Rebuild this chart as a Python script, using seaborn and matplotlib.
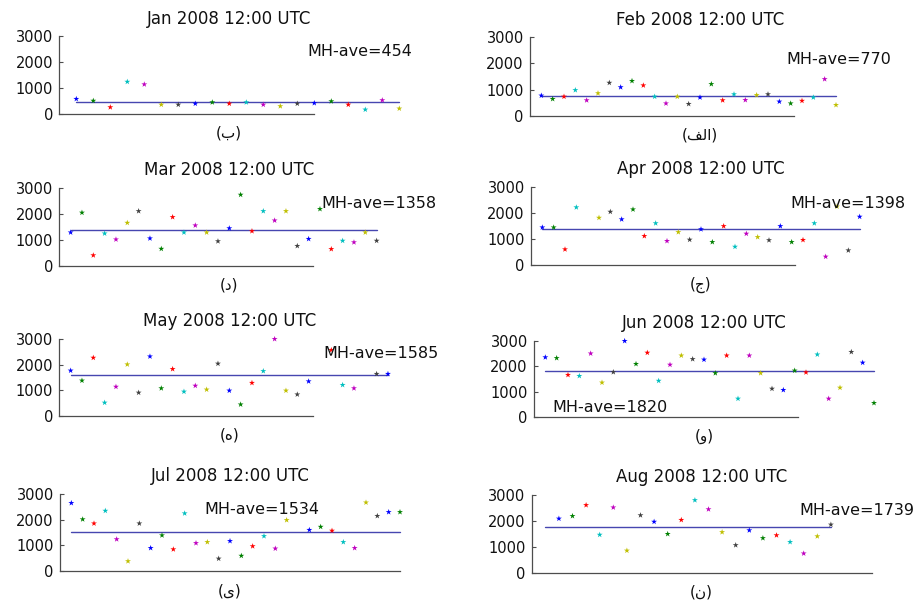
import numpy as np
import pandas as pd
import matplotlib
matplotlib.use("Agg")
import matplotlib.pyplot as plt
import seaborn as sns

nan = np.nan

# ---- data ----
titles = ["Jan 2008 12:00 UTC", "Feb 2008 12:00 UTC", "Mar 2008 12:00 UTC", "Apr 2008 12:00 UTC",
          "May 2008 12:00 UTC", "Jun 2008 12:00 UTC", "Jul 2008 12:00 UTC", "Aug 2008 12:00 UTC"]
labels = ["(ب)", "(\ufed2\ufedf\u0627)", "(د)", "(ج)", "(ه)", "(و)", "(ی)", "(ن)"]
means = [454, 770, 1358, 1398, 1585, 1820, 1534, 1739]

jan = [580, 510, 260, 1240, 1140, 360, 360, 400, 450, 400, 450, 360, 300, 400, 420, 490, 360, 170, 530, 210]
feb = [770, 640, 730, 980, 590, 860, 1260, 1090, 1330, 1160, 730, 470, 730, 450, 700, 1210, 590, 820, 600,
       790, 820, 540, 470, 570, 700, 1400, 410]
mar = [1280, 2040, 400, 1240, 1010, 1650, 2100, 1050, 650, 1870, 1280, 1550, 1280, 940, 1440, 2730, 1330,
       2100, 1740, 2100, 760, 1030, 2180, 640, 960, 900, 1280, 960]
apr = [1440, 1440, 600, 2210, nan, 1810, 2040, 1750, 2130, 1110, 1600, 920, 1260, 970, 1370, 880, 1490, 700,
       1200, 1070, 950, 1490, 880, 960, 1600, 320, 2240, 560, 1850]
may = [1770, 1380, 2270, 520, 1140, 2010, 910, 2320, 1080, 1830, 950, 1180, 1030, 2040, 990, 450, 1290, 1750,
       3000, 990, 840, 1350, nan, 2570, 1210, 1080, nan, 1640, 1640]
jun = [2350, 2320, 1660, 1620, 2500, 1360, 1770, 2990, 2090, 2530, 1430, 2060, 2420, 2280, 2260, 1730, 2420,
       730, 2420, 1730, 1120, 1070, 1830, 1760, 2460, 730, 1160, 2560, 2140, 560]
jul = [2640, 2010, 1850, 2340, 1240, 390, 1850, 900, 1390, 850, 2240, 1090, 1130, 490, 1170, 600, 970, 1360,
       880, 1980, nan, 1600, 1720, 1570, 1130, 900, 2660, 2140, 2290, 2290]
aug = [2080, 2180, 2600, 1460, 2510, 850, 2210, 1960, 1490, 2030, 2790, 2440, 1560, 1060, 1630, 1330, 1440,
       1180, 740, 1400, 1850]
series = [jan, feb, mar, apr, may, jun, jul, aug]
first_day = [1, 1, 1, 1, 1, 1, 1, 2]
yticks = [0, 1000, 2000, 3000]

# ---- layout (pixels) ----
W, H = 914, 606
# left, top, bottom of each axes in pixels
boxes = [(59.3, 36, 114), (530, 37.3, 115.7), (59.3, 187.7, 265.7), (531, 186.7, 265),
         (59.3, 339, 416), (534, 340.7, 417.3), (60, 493.7, 571.3), (531.7, 494.7, 572.7)]
axw = 340
xmax = [20, 30, 30, 30, 30, 30, 30, 25]
spine_end = [15, 23.3, 22.4, 23.3, 22.4, 23.3, 30, 25]
txt_pos = [(14.6, 2400), (22.6, 2160), (23.1, 2400), (22.85, 2340), (23.3, 2440), (1.65, 390),
           (12.7, 2370), (19.65, 2410)]

mcolors = {0: (0, 0, 1), 1: (0, 0.5, 0), 2: (1, 0, 0), 3: (0, 0.75, 0.75), 4: (0.75, 0, 0.75),
           5: (0.75, 0.75, 0), 6: (0.25, 0.25, 0.25)}

sns.set_style("white")
plt.rcParams["font.family"] = ["DejaVu Sans"]

fig = plt.figure(figsize=(W / 100, H / 100), dpi=100)

for i in range(8):
    l, t, b = boxes[i]
    ax = fig.add_axes([l / W, (H - b) / H, axw / W, (b - t) / H])
    vals = series[i]
    n = len(vals)
    xs = [first_day[i] + k for k in range(n)]
    df = pd.DataFrame({"x": xs, "y": vals, "c": [k % 7 for k in range(n)]})
    sns.scatterplot(data=df, x="x", y="y", hue="c", palette=mcolors, hue_order=list(range(7)),
                    marker="*", s=20, linewidth=0, legend=False, ax=ax, clip_on=False, zorder=3)
    line_df = pd.DataFrame({"x": [1, xs[-1]], "y": [means[i], means[i]]})
    sns.lineplot(data=line_df, x="x", y="y", color="#4646b0", lw=1.0, ax=ax, clip_on=False, zorder=2)
    ax.set_xlim(0, xmax[i])
    ax.set_ylim(0, 3000)
    ax.set_yticks(yticks)
    ax.set_xticks([])
    ax.set_xlabel("")
    ax.set_ylabel("")
    sns.despine(ax=ax)
    ax.spines["bottom"].set_bounds(0, spine_end[i])
    for s in ("left", "bottom"):
        ax.spines[s].set_color("#4d4d4d")
        ax.spines[s].set_linewidth(0.9)
    ax.tick_params(axis="y", direction="in", length=3, width=0.8, color="#4d4d4d", pad=4.5,
                   labelsize=10.5, left=True, labelcolor="#111111")
    ax.set_facecolor("none")
    ax.set_title(titles[i], fontsize=12, pad=9, color="#111111")
    tx, ty = txt_pos[i]
    ax.text(tx, ty, f"MH-ave={means[i]}", fontsize=11.5, ha="left", va="center", clip_on=False,
            color="#111111")
    ax.text(0.5, -0.25, labels[i], transform=ax.transAxes, ha="center", va="center", fontsize=11,
            family=["DejaVu Sans"], color="#111111")

fig.savefig("out.png", dpi=100, facecolor="white")
